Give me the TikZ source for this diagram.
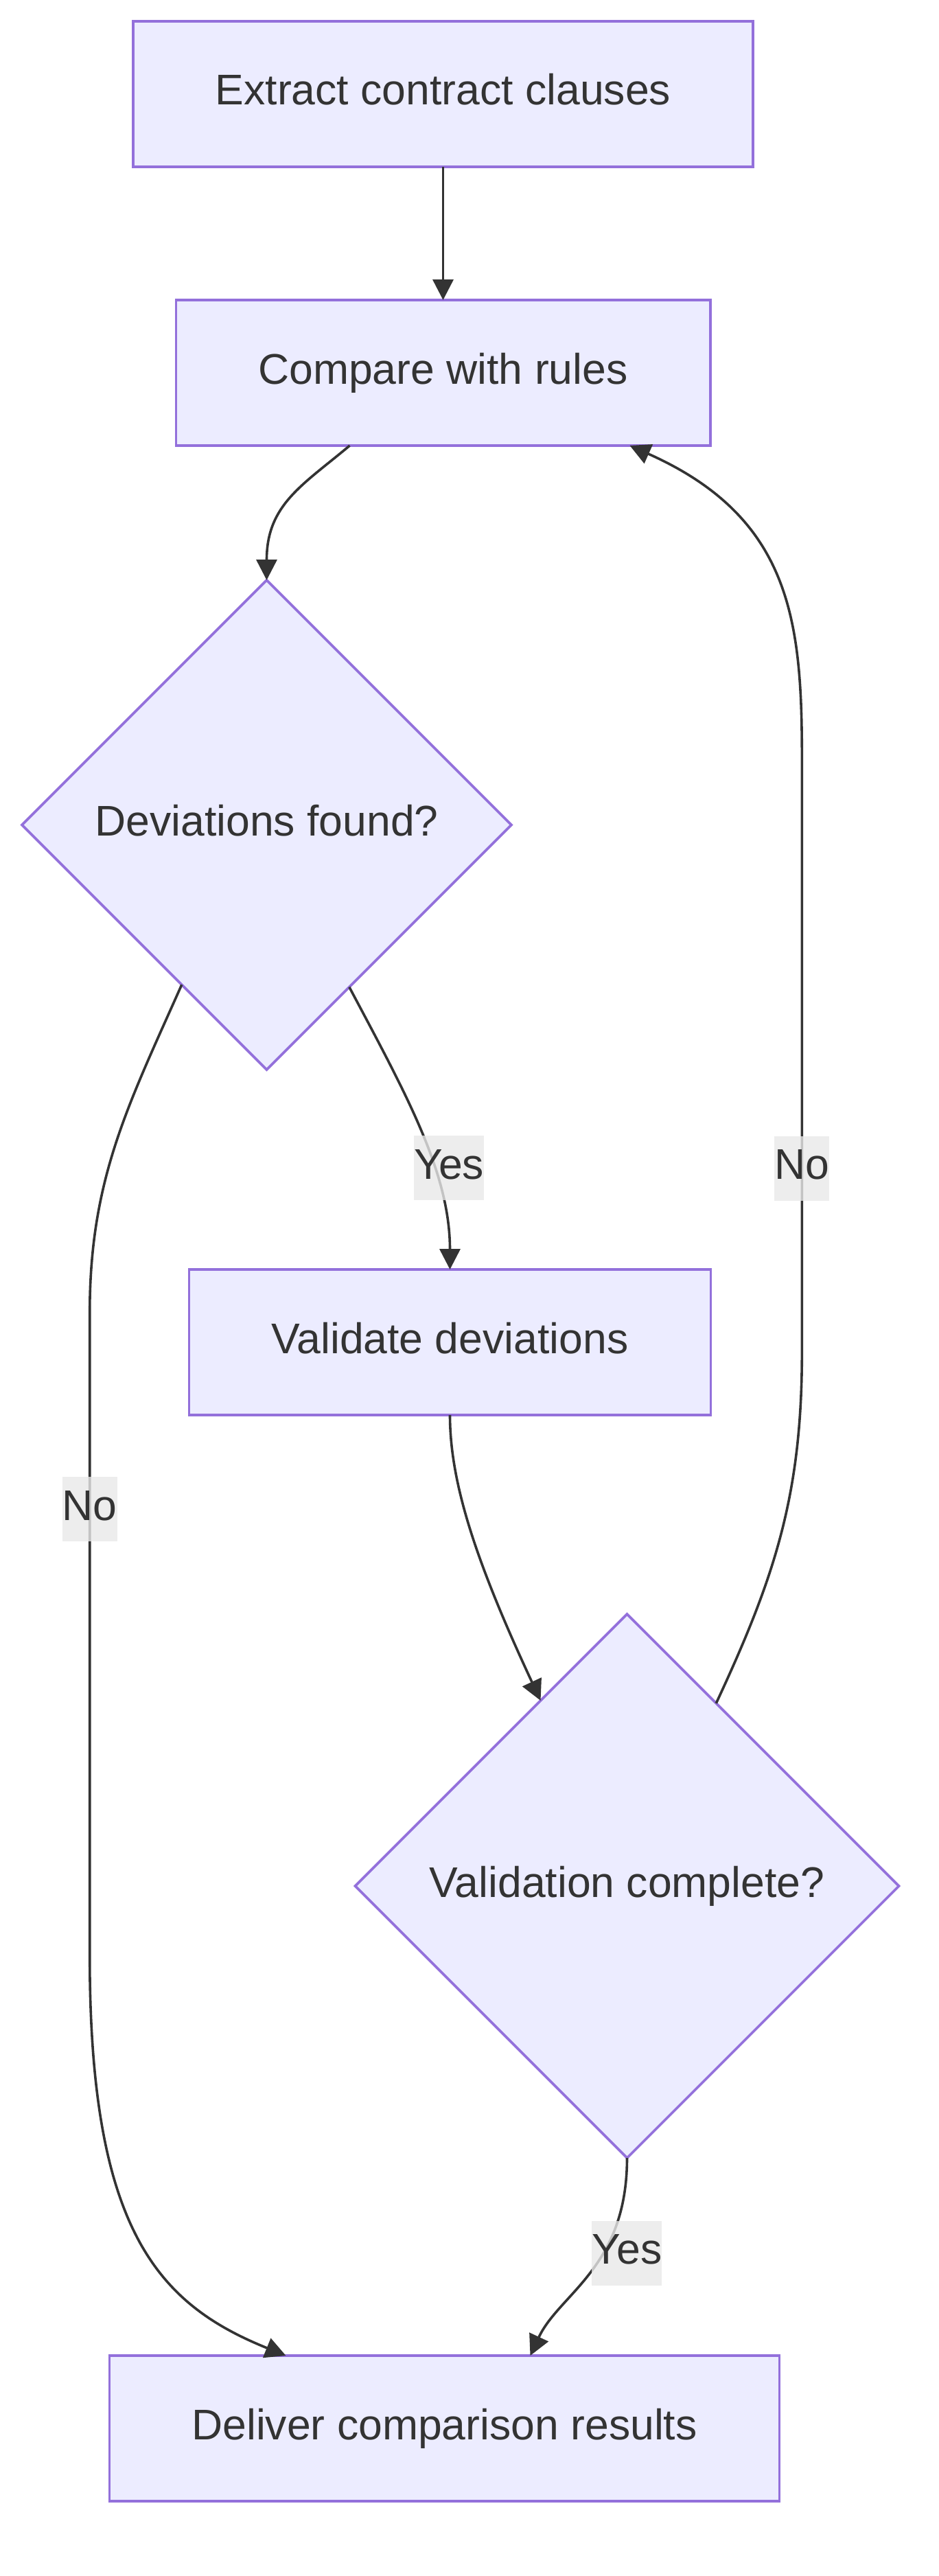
\documentclass[tikz,border=0pt]{standalone}
\usepackage{fontspec}
\setmainfont{Liberation Sans}
\usetikzlibrary{positioning,shapes.geometric,arrows.meta}
\definecolor{nodeFill}{HTML}{ECECFF}
\definecolor{nodeLine}{HTML}{9370DB}
\definecolor{inkGray}{HTML}{333333}
\definecolor{labelGray}{HTML}{E8E8E8}

\begin{document}
\begin{tikzpicture}[
                procbox/.style={rectangle, fill=nodeFill, draw=nodeLine, line width=1.8pt,
                                text=inkGray, font=\fontsize{31.25}{37.5}\selectfont,
                                text height=22.5pt, text depth=6.5pt,
                                inner xsep=60pt, minimum height=106pt, outer sep=0pt},
                decbox/.style={diamond, aspect=1, fill=nodeFill, draw=nodeLine, line width=1.8pt,
                               text=inkGray, font=\fontsize{31.25}{37.5}\selectfont,
                               text height=22.5pt, text depth=6.5pt, outer sep=0pt},
                flow/.style={draw=inkGray, line width=1.8pt, -{Triangle[length=15pt,width=15pt]}},
                lbl/.style={fill=labelGray, fill opacity=0.8, text opacity=1, text=inkGray,
                            font=\fontsize{31.25}{37.5}\selectfont, text height=22.5pt, text depth=6.5pt,
                            inner xsep=0pt, inner ysep=0pt, minimum height=47pt}
            ]
                \useasboundingbox (0,0) rectangle (684pt,-1876pt);
                \node[procbox] (p1) at (322.75pt,-68.5pt) {Extract contract clauses};
                \node[procbox, below=97pt of p1] (p2) {Compare with rules};
                \node[decbox, minimum size=356.5pt, below=98pt of p2, xshift=-128.5pt] (q1) {Deviations found?};
                \node[procbox, below=145.5pt of q1, xshift=133.5pt] (p3) {Validate deviations};
                \node[decbox, minimum size=396pt, below=145pt of p3, xshift=129pt] (q2) {Validation complete?};
                \node[procbox, below=144pt of q2, xshift=-133pt] (p4) {Deliver comparison results};

                \draw[flow] (p1) -- (p2);
                \draw[flow] ([xshift=-68pt]p2.south) to[out=-140, in=90, out distance=45pt, in distance=55pt] (q1.north);
                \draw[flow] (q1.-63) to[out=-62, in=90, out distance=90pt, in distance=70pt]
                    node[lbl, pos=0.63, xshift=11pt] {Yes} (p3.north);
                \draw[flow] (p3.south) to[out=-90, in=115, out distance=50pt, in distance=110pt] (q2.115);
                % loop back when validation is not complete
                \draw[flow] (q2.64.5) to[out=65, in=-90] ++(62.5pt,256pt)
                    -- node[lbl, pos=0.31] {No} ++(0,430.5pt)
                    to[out=90, in=-24, out distance=100pt, in distance=130pt] ([xshift=136pt]p2.south);
                \draw[flow] (q1.-118) to[out=-114, in=90] ++(-67pt,-239pt)
                    -- node[lbl, pos=0.305] {No} ++(0,-468.5pt)
                    to[out=-90, in=158, out distance=200pt, in distance=100pt] ([xshift=-115.5pt]p4.north);
                \draw[flow] (q2.south) to[out=-90, in=65, out distance=80pt, in distance=50pt]
                    node[lbl, pos=0.38, xshift=17pt] {Yes} ([xshift=62.5pt]p4.north);
            \end{tikzpicture}
\end{document}
